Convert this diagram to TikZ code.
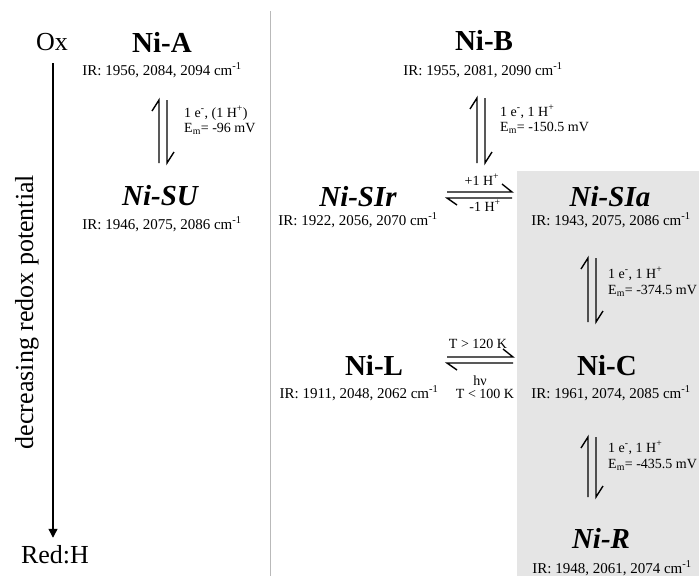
\documentclass[tikz,border=0pt]{standalone}
\usepackage{fontspec}
\setmainfont{Liberation Serif}
\usetikzlibrary{arrows.meta}
\begin{document}
\begin{tikzpicture}[x=1pt,y=-1pt,
  title/.style={font=\fontsize{29}{29}\selectfont\bfseries, anchor=base, inner sep=0pt},
  ititle/.style={font=\fontsize{29}{29}\selectfont\bfseries\itshape, anchor=base, inner sep=0pt},
  ir/.style={font=\fontsize{15}{15}\selectfont, anchor=base, inner sep=0pt},
  lab/.style={font=\fontsize{14}{14}\selectfont, anchor=base west, inner sep=0pt},
  clab/.style={font=\fontsize{14}{14}\selectfont, anchor=base, inner sep=0pt},
  big/.style={font=\fontsize{26}{26}\selectfont, inner sep=0pt},
  eq/.style={line width=1.4pt, line join=miter},
  divider/.style={gray!55, line width=1.5pt}]
% background and margins
\fill[white] (0,0) rectangle (699,576);
\useasboundingbox (0,0) rectangle (699,576);
% shaded region
\fill[gray!20] (517,171) rectangle (699,576);
% divider
\coordinate (dtop) at (270.5,11);
\coordinate (dbot) at (270.5,576);
\draw[divider] (dtop) -- (dbot);

% redox axis
\node[big, anchor=base] (ox) at (52,50) {Ox};
\node[big, anchor=base] (red) at (55,563) {Red:H};
\draw[line width=1.3pt, -{Triangle[length=9pt,width=9pt]}] ([yshift=-13pt,xshift=1pt]ox.south) -- ([yshift=7pt,xshift=-2pt]red.north);
\node[big, anchor=base, rotate=90] (dec) at (33,312) {decreasing redox potential};

% states
\node[title] (A) at (162,52) {Ni-A};
\node[ir] (irA) at (162,75) {IR: 1956, 2084, 2094 cm\textsuperscript{-1}};
\node[ititle] (SU) at (160,205) {Ni-SU};
\node[ir] (irSU) at (162,229) {IR: 1946, 2075, 2086 cm\textsuperscript{-1}};

\node[title] (B) at (484,50) {Ni-B};
\node[ir] (irB) at (483,75) {IR: 1955, 2081, 2090 cm\textsuperscript{-1}};
\node[ititle] (SIr) at (358,206) {Ni-SIr};
\node[ir] (irSIr) at (358,225) {IR: 1922, 2056, 2070 cm\textsuperscript{-1}};
\node[ititle] (SIa) at (610,206) {Ni-SIa};
\node[ir] (irSIa) at (611,225) {IR: 1943, 2075, 2086 cm\textsuperscript{-1}};
\node[title] (L) at (374,375) {Ni-L};
\node[ir] (irL) at (359,398) {IR: 1911, 2048, 2062 cm\textsuperscript{-1}};
\node[title] (C) at (607,375) {Ni-C};
\node[ir] (irC) at (611,398) {IR: 1961, 2074, 2085 cm\textsuperscript{-1}};
\node[ititle] (R) at (601,548) {Ni-R};
\node[ir] (irR) at (612,573) {IR: 1948, 2061, 2074 cm\textsuperscript{-1}};

% labels
\node[lab] (la1) at (184,117) {1 e\textsuperscript{-}, (1 H\textsuperscript{+})};
\node[lab] (la2) at (184,132) {E\textsubscript{m}= -96 mV};
\node[lab] (lb1) at (500,116) {1 e\textsuperscript{-}, 1 H\textsuperscript{+}};
\node[lab] (lb2) at (500,131) {E\textsubscript{m}= -150.5 mV};
\node[lab] (lc1) at (608,278) {1 e\textsuperscript{-}, 1 H\textsuperscript{+}};
\node[lab] (lc2) at (608,294) {E\textsubscript{m}= -374.5 mV};
\node[lab] (ld1) at (608,452) {1 e\textsuperscript{-}, 1 H\textsuperscript{+}};
\node[lab] (ld2) at (608,468) {E\textsubscript{m}= -435.5 mV};
\node[clab] (hp) at (482,185) {+1 H\textsuperscript{+}};
\node[clab] (hm) at (485,211) {-1 H\textsuperscript{+}};
\node[clab] (t1) at (478,348) {T > 120 K};
\node[clab] (hv) at (480,385) {hν};
\node[clab] (t2) at (485,398) {T < 100 K};

% vertical equilibria
\coordinate (a1) at (159,163); \coordinate (a2) at (159,100);
\coordinate (a3) at (167,100); \coordinate (a4) at (167,163);
\draw[eq] (a1) -- (a2) -- ++(-7,11);
\draw[eq] (a3) -- (a4) -- ++(7,-11);

\coordinate (b1) at (477,163); \coordinate (b2) at (477,98);
\coordinate (b3) at (485,98); \coordinate (b4) at (485,163);
\draw[eq] (b1) -- (b2) -- ++(-7,11);
\draw[eq] (b3) -- (b4) -- ++(7,-11);

\coordinate (c1) at (588,322); \coordinate (c2) at (588,258);
\coordinate (c3) at (596,258); \coordinate (c4) at (596,322);
\draw[eq] (c1) -- (c2) -- ++(-7,11);
\draw[eq] (c3) -- (c4) -- ++(7,-11);

\coordinate (d1) at (588,497); \coordinate (d2) at (588,437);
\coordinate (d3) at (596,437); \coordinate (d4) at (596,497);
\draw[eq] (d1) -- (d2) -- ++(-7,11);
\draw[eq] (d3) -- (d4) -- ++(7,-11);

% horizontal equilibria
\coordinate (e1) at (447,192); \coordinate (e2) at (512,192);
\coordinate (e3) at (512,198); \coordinate (e4) at (447,198);
\draw[eq] (e1) -- (e2) -- ++(-10,-8);
\draw[eq] (e3) -- (e4) -- ++(10,7);

\coordinate (f1) at (447,357); \coordinate (f2) at (513,357);
\coordinate (f3) at (513,363); \coordinate (f4) at (447,363);
\draw[eq] (f1) -- (f2) -- ++(-10,-8);
\draw[eq] (f3) -- (f4) -- ++(10,7);
\end{tikzpicture}
\end{document}
